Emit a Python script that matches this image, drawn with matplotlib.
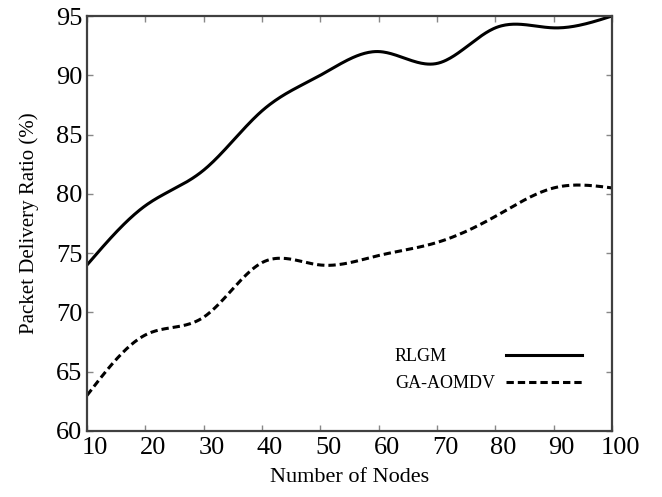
import matplotlib
matplotlib.use("Agg")
import matplotlib.pyplot as plt
import matplotlib.transforms as mtransforms
import numpy as np

# values
nodes = [10, 20, 30, 40, 50, 60, 70, 80, 90, 100]
rlgm = [74.0, 79.0, 82.0, 87.0, 90.0, 92.0, 91.0, 94.0, 94.0, 95.0]
ga_aomdv = [63.0, 68.1, 69.6, 74.2, 74.0, 74.8, 75.9, 78.1, 80.5, 80.5]

x_ticks = [10, 20, 30, 40, 50, 60, 70, 80, 90, 100]
y_ticks = [60, 65, 70, 75, 80, 85, 90, 95]


def natural_spline(x, y, n=400):
    # plain natural cubic spline, only used to draw a smooth line through the points
    x = np.asarray(x, float)
    y = np.asarray(y, float)
    k = len(x)
    h = np.diff(x)
    a = np.zeros((k, k))
    b = np.zeros(k)
    a[0, 0] = a[-1, -1] = 1.0
    for i in range(1, k - 1):
        a[i, i - 1] = h[i - 1]
        a[i, i] = 2 * (h[i - 1] + h[i])
        a[i, i + 1] = h[i]
        b[i] = 6 * ((y[i + 1] - y[i]) / h[i] - (y[i] - y[i - 1]) / h[i - 1])
    m = np.linalg.solve(a, b)
    xs = np.linspace(x[0], x[-1], n)
    idx = np.clip(np.searchsorted(x, xs) - 1, 0, k - 2)
    x0, x1 = x[idx], x[idx + 1]
    hh = x1 - x0
    t0, t1 = x1 - xs, xs - x0
    ys = (m[idx] * t0 ** 3 + m[idx + 1] * t1 ** 3) / (6 * hh) \
        + (y[idx] / hh - m[idx] * hh / 6) * t0 \
        + (y[idx + 1] / hh - m[idx + 1] * hh / 6) * t1
    return xs, ys


plt.rcParams["font.family"] = ["Liberation Serif", "DejaVu Serif"]

fig = plt.figure(figsize=(6.62, 4.97), dpi=100)
ax = fig.add_axes([0.1314, 0.1328, 0.7931, 0.835])

xs, ys = natural_spline(nodes, rlgm)
ax.plot(xs, ys, color="black", linewidth=2.2, label="RLGM")
xs, ys = natural_spline(nodes, ga_aomdv)
ax.plot(xs, ys, color="black", linewidth=2.2, linestyle=(0, (2.4, 1.3)), label="GA-AOMDV")

ax.set_xlim(10, 100)
ax.set_ylim(60, 95)
ax.set_xticks(x_ticks)
ax.set_yticks(y_ticks)

ax.tick_params(direction="in", top=True, right=True, length=4, width=1,
               color="#888888", labelsize=19, labelcolor="black")
ax.tick_params(axis="y", pad=3.5)
ax.tick_params(axis="x", pad=4)
shift = mtransforms.ScaledTranslation(0.08, 0, fig.dpi_scale_trans)
for lab in ax.get_xticklabels():
    lab.set_transform(lab.get_transform() + shift)

for spine in ax.spines.values():
    spine.set_color("#404040")
    spine.set_linewidth(1.6)

ax.set_xlabel("Number of Nodes", fontsize=16, labelpad=7)
ax.set_ylabel("Packet Delivery Ratio (%)", fontsize=15, labelpad=12)

leg_fs = 13
pad = 0.6
leg = ax.legend(loc="lower right", bbox_to_anchor=(0.966, 0.063), frameon=False,
                markerfirst=False, fontsize=leg_fs, handlelength=4.2,
                handletextpad=pad, labelspacing=0.55, borderpad=0.2)

# left-align the labels while keeping the lines lined up on the right
fig.canvas.draw()
renderer = fig.canvas.get_renderer()
widths = [t.get_window_extent(renderer).width * 72 / fig.dpi for t in leg.get_texts()]
rows = [row for col in leg._legend_handle_box.get_children() for row in col.get_children()]
for row, w in zip(rows, widths):
    row.sep = pad * leg_fs + (max(widths) - w)

fig.savefig("out.png", dpi=100)
